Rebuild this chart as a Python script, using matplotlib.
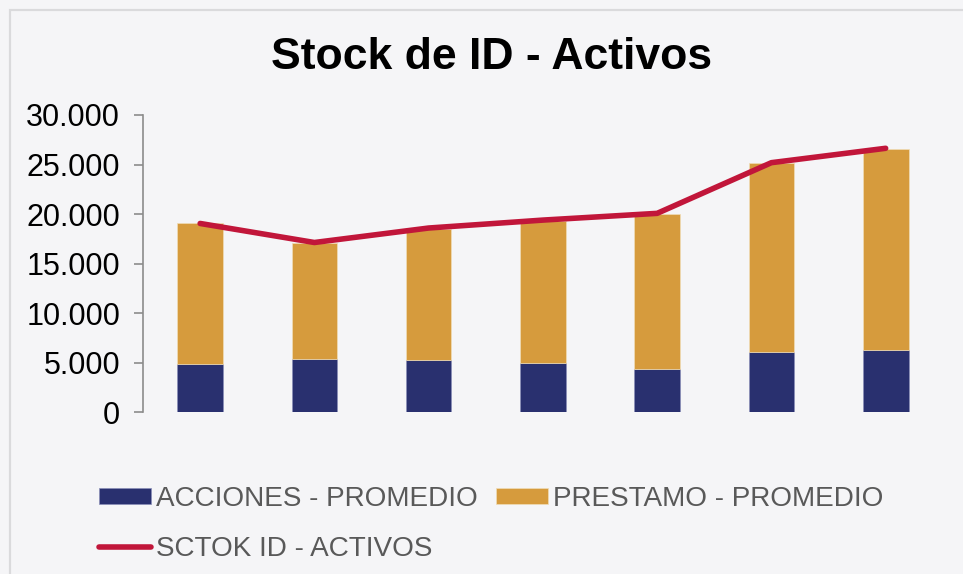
import matplotlib.pyplot as plt
from matplotlib.patches import Rectangle
from matplotlib.ticker import FuncFormatter

plt.rcParams['font.family'] = ['Liberation Sans', 'DejaVu Sans']

periods = ['P1', 'P2', 'P3', 'P4', 'P5', 'P6', 'P7']
acciones = [4890, 5420, 5260, 5020, 4390, 6130, 6300]
prestamo = [14190, 11700, 13240, 14310, 15630, 19000, 20300]
stock_activos = [19060, 17140, 18600, 19400, 20080, 25190, 26640]

navy = '#29306F'
orange = '#D69B3D'
red = '#C1163A'
bg = '#F5F5F7'

fig = plt.figure(figsize=(9.63, 5.74), dpi=100, facecolor=bg)
ax = fig.add_axes([0.1485, 0.2814, 0.8305, 0.5183])
ax.set_facecolor(bg)

# light frame around the chart area
fig.patches.append(Rectangle((10 / 963, -0.05), 1.1, 1 - 10 / 574 + 0.05,
                             transform=fig.transFigure, fill=False,
                             edgecolor='#DADADC', linewidth=1.6))

x = range(len(periods))
b1 = ax.bar(x, acciones, width=0.4, color=navy, edgecolor='#8A8EB8', linewidth=0.5,
            label='ACCIONES - PROMEDIO')
b2 = ax.bar(x, prestamo, bottom=acciones, width=0.4, color=orange, edgecolor='#F0DDB8',
            linewidth=0.5, label='PRESTAMO - PROMEDIO')
ln, = ax.plot(x, stock_activos, color=red, linewidth=4, solid_capstyle='round',
              label='SCTOK ID - ACTIVOS')

ax.set_xlim(-0.5, len(periods) - 0.5)
ax.set_ylim(0, 30000)
ax.set_yticks(range(0, 30001, 5000))
ax.yaxis.set_major_formatter(FuncFormatter(lambda v, p: f'{int(v):,}'.replace(',', '.')))
ax.set_xticks([])

for side in ['top', 'right', 'bottom']:
    ax.spines[side].set_visible(False)
ax.spines['left'].set_color('#8C8C8C')
ax.spines['left'].set_linewidth(1.2)
ax.tick_params(axis='y', direction='out', length=6.5, width=1.2, color='#8C8C8C',
               labelsize=22, labelcolor='black', pad=10)

fig.text(0.51, 0.899, 'Stock de ID - Activos', ha='center', va='center',
         fontsize=32, fontweight='bold')

fig.legend([b1, ln, b2], ['ACCIONES - PROMEDIO', 'SCTOK ID - ACTIVOS', 'PRESTAMO - PROMEDIO'],
           loc='upper left', bbox_to_anchor=(99 / 963, 1 - 486 / 574), ncol=2,
           frameon=False, fontsize=20.1, labelcolor='#595959', borderpad=0,
           borderaxespad=0, handlelength=1.85, handleheight=0.5,
           handletextpad=0.18, columnspacing=0.68, labelspacing=0.85)

fig.savefig('out.png', dpi=100, facecolor=bg)
